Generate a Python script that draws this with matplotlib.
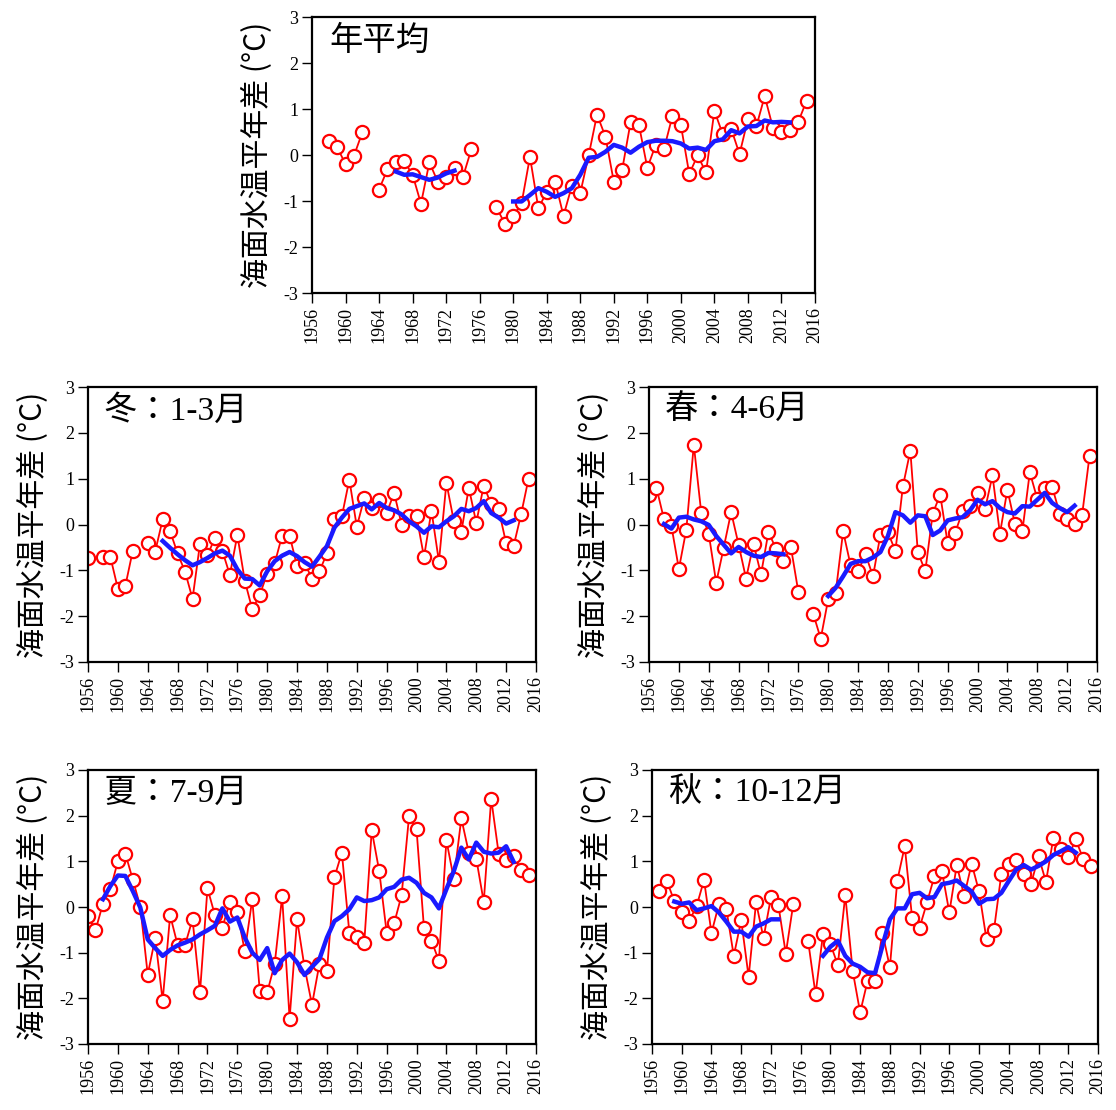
import numpy as np
import matplotlib
matplotlib.use("Agg")
import matplotlib.pyplot as plt

plt.rcParams["axes.unicode_minus"] = False

N = None
years = np.arange(1956, 2016)

# yearly anomalies (1956-2015), None = no data
annual = [N, N, 0.30, 0.17, -0.20, -0.02, 0.49, N, -0.75, -0.31,
          -0.15, -0.14, -0.43, -1.06, -0.16, -0.58, -0.47, -0.28, -0.48, 0.12,
          N, N, -1.14, -1.49, -1.33, -1.05, -0.04, -1.16, -0.80, -0.58,
          -1.32, -0.67, -0.83, -0.01, 0.88, 0.40, -0.58, -0.32, 0.71, 0.65,
          -0.28, 0.22, 0.14, 0.85, 0.65, -0.41, -0.01, -0.38, 0.96, 0.45,
          0.57, 0.02, 0.78, 0.62, 1.28, 0.58, 0.51, 0.54, 0.72, 1.18]
annual_ma = [N, N, N, N, N, N, N, N, N, N,
             -0.36, -0.43, -0.42, -0.48, -0.54, -0.49, -0.40, -0.34, N, N,
             N, N, N, N, -1.01, -1.01, -0.87, -0.72, -0.80, -0.91,
             -0.83, -0.72, -0.43, -0.06, -0.04, 0.07, 0.22, 0.16, 0.05, 0.18,
             0.28, 0.31, 0.31, 0.30, 0.25, 0.14, 0.16, 0.11, 0.30, 0.34,
             0.54, 0.47, 0.62, 0.63, 0.75, 0.71, 0.72, 0.71, N, N]

winter = [-0.73, N, -0.71, -0.71, -1.40, -1.34, -0.57, N, -0.41, -0.59,
          0.11, -0.15, -0.63, -1.03, -1.62, -0.42, -0.67, -0.29, -0.58, -1.10,
          -0.23, -1.23, -1.85, -1.54, -1.07, -0.85, -0.24, -0.24, -0.91, -0.84,
          -1.18, -1.02, -0.63, 0.11, 0.18, 0.98, -0.05, 0.58, 0.36, 0.54,
          0.25, 0.69, 0.00, 0.18, 0.18, -0.71, 0.30, -0.81, 0.91, 0.07,
          -0.16, 0.80, 0.04, 0.85, 0.44, 0.33, -0.41, -0.47, 0.22, 1.00]
winter_ma = [N, N, N, N, N, N, N, N, N, N,
             -0.36, -0.51, -0.65, -0.78, -0.89, -0.82, -0.73, -0.63, -0.57, -0.68,
             -0.98, -1.18, -1.19, -1.33, -1.02, -0.80, -0.68, -0.60, -0.69, -0.82,
             -0.92, -0.70, -0.47, -0.07, 0.15, 0.34, 0.40, 0.46, 0.33, 0.47,
             0.36, 0.31, 0.22, 0.07, -0.04, -0.18, -0.04, -0.06, 0.07, 0.18,
             0.34, 0.29, 0.36, 0.51, 0.25, 0.15, 0.02, 0.09, N, N]

spring = [0.64, 0.80, 0.12, -0.03, -0.97, -0.11, 1.74, 0.25, -0.20, -1.27,
          -0.51, 0.27, -0.44, -1.18, -0.42, -1.09, -0.16, -0.53, -0.80, -0.49,
          -1.47, N, -1.95, -2.49, -1.63, -1.49, -0.15, -0.89, -1.02, -0.65,
          -1.13, -0.22, -0.17, -0.58, 0.83, 1.61, -0.60, -1.02, 0.24, 0.65,
          -0.41, -0.18, 0.29, 0.41, 0.69, 0.33, 1.07, -0.20, 0.76, 0.02,
          -0.15, 1.14, 0.56, 0.80, 0.82, 0.24, 0.12, 0.02, 0.20, 1.50]
spring_ma = [N, N, 0.01, -0.09, 0.15, 0.17, 0.11, 0.07, -0.01, -0.25,
             -0.44, -0.63, -0.49, -0.60, -0.68, -0.71, -0.62, -0.63, -0.65, N,
             N, N, N, N, -1.56, -1.38, -1.13, -0.86, -0.80, -0.80,
             -0.72, -0.60, -0.25, 0.27, 0.20, 0.04, 0.20, 0.18, -0.23, -0.13,
             0.09, 0.13, 0.16, 0.31, 0.54, 0.44, 0.51, 0.36, 0.27, 0.24,
             0.40, 0.39, 0.54, 0.69, 0.47, 0.36, 0.27, 0.41, N, N]

summer = [-0.20, -0.51, 0.07, 0.39, 1.00, 1.17, 0.60, 0.01, -1.48, -0.68,
          -2.05, -0.18, -0.83, -0.83, -0.27, -1.87, 0.41, -0.18, -0.45, 0.12,
          -0.11, -0.97, 0.17, -1.83, -1.87, -1.25, 0.23, -2.45, -0.27, -1.32,
          -2.14, -1.24, -1.41, 0.65, 1.19, -0.56, -0.65, -0.78, 1.68, 0.79,
          -0.56, -0.36, 0.26, 1.99, 1.70, -0.47, -0.74, -1.18, 1.46, 0.61,
          1.94, 1.19, 1.06, 0.11, 2.37, 1.17, 1.02, 1.11, 0.82, 0.70]
summer_ma = [N, N, 0.17, 0.46, 0.69, 0.68, 0.35, -0.01, -0.71, -0.90,
             -1.07, -0.94, -0.84, -0.78, -0.71, -0.60, -0.51, -0.41, -0.03, -0.32,
             -0.23, -0.67, -1.00, -1.16, -0.90, -1.45, -1.16, -1.02, -1.21, -1.49,
             -1.31, -1.14, -0.67, -0.31, -0.20, -0.05, 0.21, 0.13, 0.15, 0.21,
             0.39, 0.44, 0.60, 0.64, 0.53, 0.31, 0.21, -0.03, 0.39, 0.79,
             1.30, 1.04, 1.41, 1.21, 1.17, 1.19, 1.33, 0.99, N, N]

autumn = [N, 0.36, 0.57, 0.13, -0.12, -0.31, 0.02, 0.59, -0.57, 0.06,
          -0.04, -1.07, -0.29, -1.53, 0.10, -0.68, 0.21, 0.04, -1.02, 0.06,
          N, -0.74, -1.91, -0.60, -0.81, -1.27, 0.26, -1.40, -2.31, -1.62,
          -1.63, -0.56, -1.32, 0.58, 1.33, -0.25, -0.45, 0.10, 0.68, 0.79,
          -0.12, 0.92, 0.24, 0.95, 0.34, -0.71, -0.51, 0.73, 0.95, 1.04,
          0.73, 0.51, 1.11, 0.55, 1.52, 1.26, 1.09, 1.48, 1.06, 0.90]
autumn_ma = [N, N, N, 0.12, 0.07, 0.10, -0.07, -0.03, 0.02, -0.12,
             -0.32, -0.54, -0.54, -0.65, -0.43, -0.36, -0.27, -0.27, N, N,
             N, N, N, -1.07, -0.87, -0.74, -1.07, -1.24, -1.31, -1.43,
             -1.45, -0.85, -0.27, -0.03, -0.03, 0.28, 0.31, 0.19, 0.22, 0.50,
             0.53, 0.58, 0.46, 0.34, 0.07, 0.17, 0.18, 0.31, 0.57, 0.82,
             0.92, 0.82, 0.90, 1.00, 1.14, 1.22, 1.31, 1.19, N, N]

titles = ["年平均", "冬：1-3月", "春：4-6月", "夏：7-9月", "秋：10-12月"]
ylabel = "海面水温平年差 (°C)"
xticks = list(range(1956, 2017, 4))
yticks = [-3, -2, -1, 0, 1, 2, 3]

W, H = 1116, 1110
# axes boxes in pixels: left, top, right, bottom
boxes = [(312, 17, 815, 293),
         (88, 387, 536, 662),
         (649, 387, 1097, 662),
         (88, 770, 536, 1044),
         (652, 770, 1098, 1044)]
data = [(annual, annual_ma), (winter, winter_ma), (spring, spring_ma),
        (summer, summer_ma), (autumn, autumn_ma)]

fig = plt.figure(figsize=(W / 100, H / 100), dpi=100)

for (l, t, r, b), (vals, ma), title in zip(boxes, data, titles):
    ax = fig.add_axes([l / W, 1 - b / H, (r - l) / W, (b - t) / H])
    v = np.array(vals, dtype=float)
    m = np.array(ma, dtype=float)
    ax.plot(years, v, color="red", lw=1.3, marker="o", ms=9.5,
            mfc="white", mec="red", mew=1.6, zorder=2)
    ax.plot(years, m, color="#1a1aff", lw=3.2, zorder=3)
    ax.set_xlim(1956, 2016)
    ax.set_ylim(-3, 3)
    ax.set_xticks(xticks)
    ax.set_yticks(yticks)
    ax.tick_params(direction="out", length=7, width=1, pad=3)
    for lab in ax.get_xticklabels():
        lab.set_rotation(90)
    for lab in ax.get_xticklabels() + ax.get_yticklabels():
        lab.set_fontfamily("Liberation Serif")
        lab.set_fontsize(13)
    for s in ax.spines.values():
        s.set_linewidth(1.6)
    ax.set_ylabel(ylabel, family=["Noto Sans CJK JP", "DejaVu Sans"],
                  fontsize=21.5, labelpad=7)
    ax.text(0.035, 0.97, title, transform=ax.transAxes, va="top", ha="left",
            family=["Liberation Serif", "Noto Sans CJK TC"], fontsize=24)

fig.savefig("out.png", dpi=100)
